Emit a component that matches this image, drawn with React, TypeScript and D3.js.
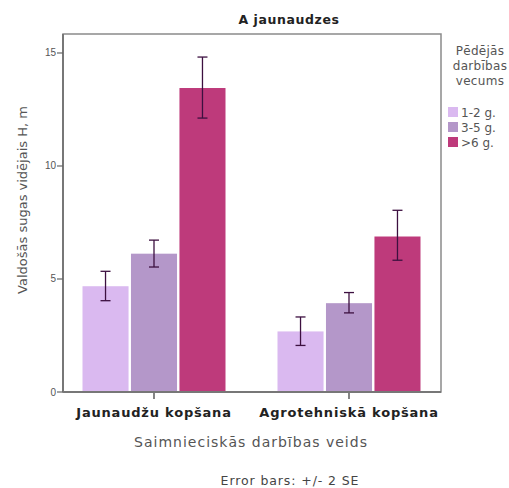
import React from "react";
import * as d3 from "d3";

const categories = ["Jaunaudžu kopšana", "Agrotehniskā kopšana"];
const seriesNames = ["1-2 g.", "3-5 g.", ">6 g."];
const seriesColors = ["#dab9f0", "#b497c9", "#be3a7b"];
const meansG1 = [4.68, 6.12, 13.45];
const meansG2 = [2.68, 3.93, 6.88];
const errLowG1 = [4.04, 5.53, 12.12];
const errHighG1 = [5.34, 6.72, 14.82];
const errLowG2 = [2.06, 3.5, 5.83];
const errHighG2 = [3.32, 4.4, 8.04];
const yTicks = [0, 5, 10, 15];
const legendTitle = ["Pēdējās", "darbības", "vecums"];

const W = 509, H = 488;
const left = 63, right = 441, top = 34, bottom = 392;
const FONT = "DejaVu Sans";

export default function App() {
  const y = d3.scaleLinear().domain([0, 15.84]).range([bottom, top]);
  const x0 = d3.scaleBand<string>().domain(categories).range([56.5, 446.5]).padding(0);
  const x1 = d3.scaleBand<string>().domain(seriesNames).range([0, 143]).paddingInner(0.05);
  const means = [meansG1, meansG2];
  const lows = [errLowG1, errLowG2];
  const highs = [errHighG1, errHighG2];
  const groupOff = (x0.bandwidth() - 143) / 2;
  return (
    <svg width={W} height={H} style={{ position: "absolute", left: 0, top: 0 }}>
      <rect width={W} height={H} fill="#fff" />
      <text x={289} y={24} textAnchor="middle" fontFamily={FONT} fontWeight="bold" fontSize={12.5} letterSpacing={0.6} fill="#222">A jaunaudzes</text>
      <rect x={left} y={top} width={right - left} height={bottom - top} fill="none" stroke="#8a8a8a" strokeWidth={1.5} />
      {categories.map((c, gi) => (
        <g key={c}>
          {seriesNames.map((s, si) => {
            const bx = (x0(c) as number) + groupOff + (x1(s) as number);
            const bw = x1.bandwidth();
            const cx = bx + bw / 2;
            return (
              <g key={s}>
                <rect x={bx} y={y(means[gi][si])} width={bw} height={bottom - y(means[gi][si])} fill={seriesColors[si]} />
                <line x1={cx} x2={cx} y1={y(lows[gi][si])} y2={y(highs[gi][si])} stroke="#3d1040" strokeWidth={1.3} />
                <line x1={cx - 5} x2={cx + 5} y1={y(lows[gi][si])} y2={y(lows[gi][si])} stroke="#3d1040" strokeWidth={1.3} />
                <line x1={cx - 5} x2={cx + 5} y1={y(highs[gi][si])} y2={y(highs[gi][si])} stroke="#3d1040" strokeWidth={1.3} />
              </g>
            );
          })}
          <line x1={(x0(c) as number) + x0.bandwidth() / 2} x2={(x0(c) as number) + x0.bandwidth() / 2} y1={bottom} y2={bottom + 7} stroke="#333" strokeWidth={1.2} />
          <text x={(x0(c) as number) + x0.bandwidth() / 2} y={417} textAnchor="middle" fontFamily={FONT} fontWeight="bold" fontSize={13} letterSpacing={0.8} fill="#222">{c}</text>
        </g>
      ))}
      <line x1={left} x2={left} y1={top} y2={bottom} stroke="#777" strokeWidth={2} />
      <line x1={left} x2={right} y1={bottom} y2={bottom} stroke="#777" strokeWidth={2} />
      {yTicks.map((t) => (
        <g key={t}>
          <line x1={left - 6} x2={left} y1={y(t)} y2={y(t)} stroke="#666" strokeWidth={1.2} />
          <text x={left - 7} y={y(t) + 3.5} textAnchor="end" fontFamily="Liberation Sans" fontSize={10} fill="#555">{t}</text>
        </g>
      ))}
      <text transform={`translate(27,200) rotate(-90)`} textAnchor="middle" fontFamily={FONT} fontSize={13} fill="#555">Valdošās sugas vidējais H, m</text>
      <text x={251} y={447} textAnchor="middle" fontFamily={FONT} fontSize={14} letterSpacing={1} fill="#555">Saimnieciskās darbības veids</text>
      <text x={290} y={485} textAnchor="middle" fontFamily={FONT} fontSize={12.5} letterSpacing={0.9} fill="#444">Error bars: +/- 2 SE</text>
      {legendTitle.map((l, i) => (
        <text key={l} x={480} y={55 + i * 15} textAnchor="middle" fontFamily={FONT} fontSize={12} letterSpacing={0.3} fill="#555">{l}</text>
      ))}
      {seriesNames.map((s, i) => (
        <g key={s}>
          <rect x={448} y={107 + i * 15} width={10} height={10} fill={seriesColors[i]} />
          <text x={461} y={116.5 + i * 15} fontFamily={FONT} fontSize={12} fill="#555">{s}</text>
        </g>
      ))}
    </svg>
  );
}
